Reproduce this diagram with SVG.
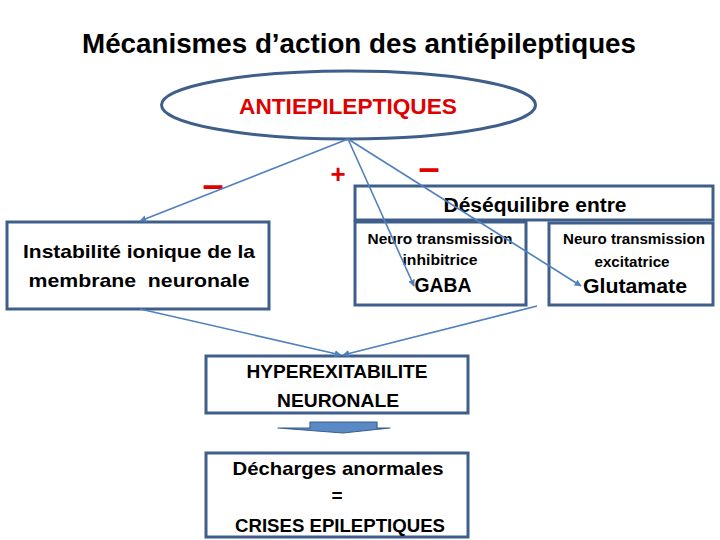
<svg xmlns="http://www.w3.org/2000/svg" width="720" height="540" viewBox="0 0 720 540">
<defs>
<marker id="ah" viewBox="0 0 10 10" refX="9" refY="5" markerWidth="7" markerHeight="7" markerUnits="userSpaceOnUse" orient="auto">
<path d="M0,0 L10,5 L0,10 z" fill="#4F81BD"/>
</marker>
<style>
.box{fill:#fff;stroke:#3F5F8A;stroke-width:3}
.t{font-family:"Liberation Sans",Arial,sans-serif;font-weight:bold;fill:#000;text-anchor:middle}
.red{font-family:"Liberation Sans",Arial,sans-serif;font-weight:bold;fill:#E00000;text-anchor:middle}
.c{stroke:#4F81BD;stroke-width:1.6;fill:none;marker-end:url(#ah)}
</style>
</defs>
<rect width="720" height="540" fill="#fff"/>
<text class="t" x="359" y="53" font-size="27" textLength="554" lengthAdjust="spacingAndGlyphs">Mécanismes d’action des antiépileptiques</text>

<g id="antiepileptiques">
<ellipse cx="348.5" cy="105" rx="187" ry="34" fill="#fff" stroke="#3F5F8A" stroke-width="3"/>
<text class="red" x="348" y="114" font-size="22.5" textLength="218" lengthAdjust="spacingAndGlyphs">ANTIEPILEPTIQUES</text>
</g>

<g id="signs">
<text class="red" x="213" y="198" font-size="38">–</text>
<text class="red" x="338" y="183" font-size="26">+</text>
<text class="red" x="429" y="181" font-size="38">–</text>
</g>

<g id="instabilite">
<rect class="box" x="7" y="222" width="262" height="87"/>
<text class="t" x="139" y="258" font-size="19" textLength="232" lengthAdjust="spacingAndGlyphs">Instabilité ionique de la</text>
<text class="t" x="139" y="287" font-size="19" textLength="221" lengthAdjust="spacingAndGlyphs" xml:space="preserve">membrane  neuronale</text>
</g>

<g id="desequilibre">
<rect class="box" x="355" y="186" width="358" height="34"/>
<text class="t" x="535" y="212" font-size="19.5" textLength="183" lengthAdjust="spacingAndGlyphs">Déséquilibre entre</text>
</g>

<g id="gaba">
<rect class="box" x="355" y="222" width="171" height="83"/>
<text class="t" x="440" y="244" font-size="14" textLength="145" lengthAdjust="spacingAndGlyphs">Neuro transmission</text>
<text class="t" x="440" y="265" font-size="14" textLength="75" lengthAdjust="spacingAndGlyphs">inhibitrice</text>
<text class="t" x="443" y="292" font-size="20" textLength="57" lengthAdjust="spacingAndGlyphs">GABA</text>
</g>

<g id="glutamate">
<rect class="box" x="549" y="223" width="164" height="82"/>
<text class="t" x="634" y="244" font-size="14" textLength="142" lengthAdjust="spacingAndGlyphs">Neuro transmission</text>
<text class="t" x="632" y="267" font-size="14" textLength="75" lengthAdjust="spacingAndGlyphs">excitatrice</text>
<text class="t" x="635" y="293" font-size="20" textLength="104" lengthAdjust="spacingAndGlyphs">Glutamate</text>
</g>

<g id="hyperexcitabilite">
<rect class="box" x="206" y="356" width="262" height="57"/>
<text class="t" x="337" y="378" font-size="19" textLength="181" lengthAdjust="spacingAndGlyphs">HYPEREXITABILITE</text>
<text class="t" x="338" y="407" font-size="19" textLength="122" lengthAdjust="spacingAndGlyphs">NEURONALE</text>
</g>

<g id="block-arrow">
<path d="M310,422 L377,422 L377,428 L390,428 L343,433 L278,428 L310,428 Z" fill="#5A8AC6" stroke="#3A5F8E" stroke-width="1.2" stroke-linejoin="round"/>
</g>

<g id="crises">
<rect class="box" x="206" y="453" width="262" height="84"/>
<text class="t" x="338" y="475" font-size="19" textLength="211" lengthAdjust="spacingAndGlyphs">Décharges anormales</text>
<text class="t" x="337" y="502" font-size="19">=</text>
<text class="t" x="340" y="532" font-size="19" textLength="210" lengthAdjust="spacingAndGlyphs">CRISES EPILEPTIQUES</text>
</g>

<g id="connectors">
<line class="c" x1="348" y1="139" x2="140" y2="221"/>
<line class="c" x1="348" y1="139" x2="414" y2="286"/>
<line class="c" x1="348" y1="139" x2="581" y2="286"/>
<line class="c" x1="140" y1="309" x2="341" y2="355"/>
<line class="c" x1="537" y1="306" x2="343" y2="355"/>
</g>
</svg>
